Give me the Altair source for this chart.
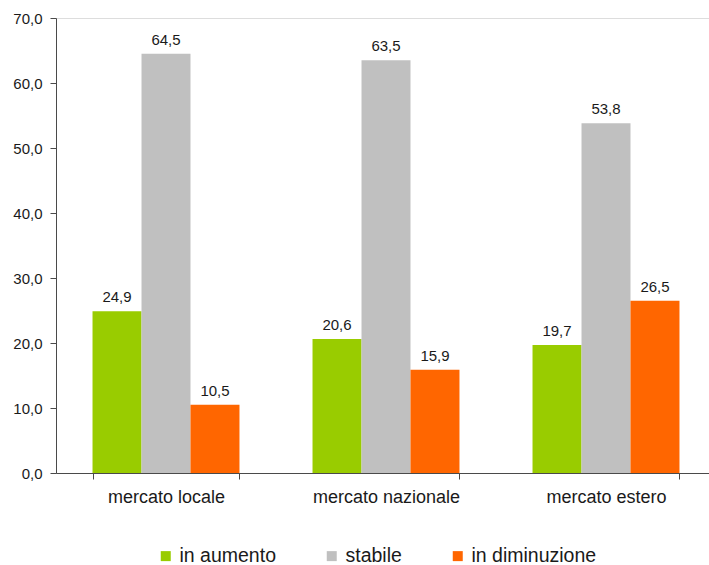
import altair as alt
import pandas as pd

mercati = ["mercato locale", "mercato nazionale", "mercato estero"]
serie = ["in aumento", "stabile", "in diminuzione"]
in_aumento = [24.9, 20.6, 19.7]
stabile = [64.5, 63.5, 53.8]
in_diminuzione = [10.5, 15.9, 26.5]
colori = ["#99CC00", "#C0C0C0", "#FF6600"]

rows = []
for vals, s in zip([in_aumento, stabile, in_diminuzione], serie):
    for m, v in zip(mercati, vals):
        rows.append({"mercato": m, "serie": s, "valore": v})
df = pd.DataFrame(rows)

FONT = "Liberation Sans"
AXIS_COLOR = "#4a4a4a"
TEXT_COLOR = "#1a1a1a"

x_enc = alt.X(
    "mercato:N",
    sort=mercati,
    title=None,
    scale=alt.Scale(range=[0, 660], paddingInner=0.332, paddingOuter=0.166),
    axis=alt.Axis(
        labelAngle=0,
        labelFont=FONT,
        labelFontSize=18,
        labelColor=TEXT_COLOR,
        labelBaseline="alphabetic",
        labelPadding=23,
        tickBand="extent",
        tickSize=6,
        tickColor=AXIS_COLOR,
        domainColor=AXIS_COLOR,
        grid=False,
    ),
)
xoff = alt.XOffset("serie:N", sort=serie, scale=alt.Scale(paddingInner=0, paddingOuter=0))
y_enc = alt.Y(
    "valore:Q",
    title=None,
    scale=alt.Scale(domain=[0, 70], nice=False),
    axis=alt.Axis(
        values=[0, 10, 20, 30, 40, 50, 60, 70],
        labelExpr="replace(format(datum.value, '.1f'), '.', ',')",
        labelFont=FONT,
        labelFontSize=15,
        labelColor=TEXT_COLOR,
        labelPadding=8,
        tickSize=6,
        tickColor=AXIS_COLOR,
        domainColor=AXIS_COLOR,
        grid=False,
    ),
)

bars = alt.Chart(df).mark_bar().encode(
    x=x_enc,
    xOffset=xoff,
    y=y_enc,
    color=alt.Color(
        "serie:N",
        sort=serie,
        scale=alt.Scale(domain=serie, range=colori),
        legend=alt.Legend(
            title=None,
            orient="none",
            direction="horizontal",
            legendX=100,
            legendY=528,
            padding=0,
            symbolType="square",
            symbolSize=100,
            symbolStrokeWidth=0,
            labelFont=FONT,
            labelFontSize=19.5,
            labelColor=TEXT_COLOR,
            labelOffset=4,
            columnPadding=46,
        ),
    ),
)

etichette = alt.Chart(df).transform_calculate(
    testo="replace(format(datum.valore, '.1f'), '.', ',')"
).mark_text(
    font=FONT, fontSize=15, color=TEXT_COLOR, baseline="alphabetic", dy=-9
).encode(
    x=alt.X("mercato:N", sort=mercati),
    xOffset=alt.XOffset("serie:N", sort=serie),
    y="valore:Q",
    text="testo:N",
)

chart = (
    alt.layer(bars, etichette)
    .properties(
        width=653,
        height=455,
        autosize=alt.AutoSizeParams(type="none"),
        padding={"left": 56, "top": 18, "right": 0, "bottom": 92},
    )
    .configure_view(stroke=None)
    .configure(background="white")
)

chart.save("out.html", embed_options={"renderer": "svg", "actions": False})
